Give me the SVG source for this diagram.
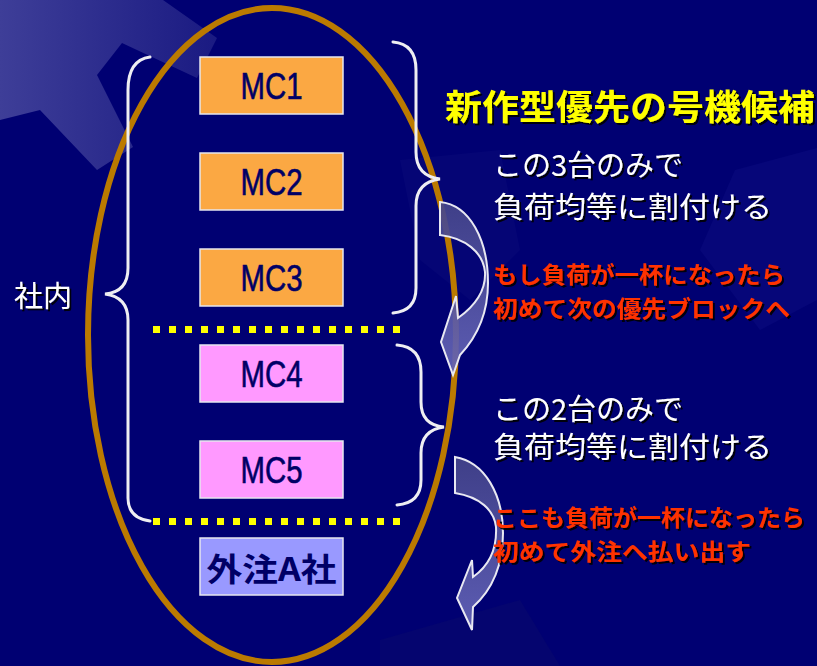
<svg xmlns="http://www.w3.org/2000/svg" width="817" height="666" viewBox="0 0 817 666">
<defs>
<linearGradient id="bgShape" x1="0" y1="0" x2="1" y2="0">
<stop offset="0" stop-color="#3E3E98"/>
<stop offset="1" stop-color="#1A1A82"/>
</linearGradient>
<linearGradient id="arrowFill" x1="0" y1="0" x2="0" y2="1">
<stop offset="0" stop-color="#44448A"/>
<stop offset="1" stop-color="#6464B8"/>
</linearGradient>
<filter id="shadow" x="-5%" y="-20%" width="115%" height="150%">
<feDropShadow dx="2" dy="2" stdDeviation="0.3" flood-color="#000000" flood-opacity="0.9"/>
</filter>
</defs>
<style>
.brace{fill:none;stroke:#EEEEF2;stroke-width:3;stroke-linecap:round}
.dots{stroke:#FFFF00;stroke-width:7;stroke-dasharray:7 9}
.box{stroke:#E6E6EE;stroke-width:1.5}
.mc{font-family:"Liberation Sans",Arial,sans-serif;font-size:36px;fill:#000066;stroke:#000066;stroke-width:0.6;text-anchor:middle}
.jp{font-family:"Noto Sans CJK JP","Noto Sans CJK SC",sans-serif}
.white{fill:#FFFFFF;font-size:29px}
.red{fill:#FF3300;font-size:23px;font-weight:bold}
.arrow{fill:url(#arrowFill);fill-opacity:0.92;stroke:#E8E8F2;stroke-width:2;stroke-linejoin:miter}
</style>
<rect x="0" y="0" width="817" height="666" fill="#000072"/>
<g id="background">
<polygon points="0,0 163,0 217,38 197,78 122,43 97,75 133,147 97,170 40,110 0,120" fill="url(#bgShape)"/>
<polygon points="735,170 817,148 817,300 760,330 700,250" fill="#0A0A7E" opacity="0.6"/>
<polygon points="400,160 500,150 520,250 470,300 420,260" fill="#080878" opacity="0.6"/>
<polygon points="380,640 520,600 560,666 380,666" fill="#06066E" opacity="0.8"/>
</g>
<g id="ellipse">
<ellipse cx="272" cy="335" rx="184" ry="327" fill="none" stroke="#BB7A00" stroke-width="6"/>
</g>
<g id="connectors">
<path class="brace" d="M150,57 Q128,60 128,90 L128,268 Q128,292 105,294 Q128,297 128,320 L128,498 Q128,518 150,521"/>
<path class="brace" d="M393,42 Q416,44 416,70 L416,152 Q416,176 440,179 Q416,182 416,206 L416,288 Q416,311 393,313"/>
<path class="brace" d="M397,345 Q421,347 421,372 L421,402 Q421,425 444,427 Q421,430 421,453 L421,480 Q421,503 397,505"/>
<line class="dots" x1="153" y1="329.5" x2="400" y2="329.5"/>
<line class="dots" x1="153" y1="521.5" x2="400" y2="521.5"/>
<path id="arrow1" class="arrow" d="M440,202 C470,205 488,240 488,283 C488,315 476,338 460,355 L453,375 L441,342 L456,296 L458,318 C476,305 486,290 485,272 C483,252 465,238 440,235 Z"/>
<path id="arrow2" class="arrow" d="M455,457 C485,462 503,495 503,533 C503,565 492,590 473,607 L472,630 L457,598 L472,560 L473,577 C490,565 497,547 496,527 C494,510 480,497 455,493 Z"/>
</g>
<g id="mc1"><rect class="box" x="200" y="57" width="143" height="57" fill="#FBA843"/><text class="mc" x="271.5" y="99" textLength="62" lengthAdjust="spacingAndGlyphs">MC1</text></g>
<g id="mc2"><rect class="box" x="200" y="153" width="143" height="57" fill="#FBA843"/><text class="mc" x="271.5" y="195" textLength="62" lengthAdjust="spacingAndGlyphs">MC2</text></g>
<g id="mc3"><rect class="box" x="200" y="249" width="143" height="57" fill="#FBA843"/><text class="mc" x="271.5" y="291" textLength="62" lengthAdjust="spacingAndGlyphs">MC3</text></g>
<g id="mc4"><rect class="box" x="200" y="345" width="143" height="57" fill="#FF99FF"/><text class="mc" x="271.5" y="387" textLength="62" lengthAdjust="spacingAndGlyphs">MC4</text></g>
<g id="mc5"><rect class="box" x="200" y="441" width="143" height="57" fill="#FF99FF"/><text class="mc" x="271.5" y="483" textLength="62" lengthAdjust="spacingAndGlyphs">MC5</text></g>
<g id="gaichu"><rect class="box" x="200" y="538" width="143" height="57" fill="#9999FF"/><text class="jp" x="271.5" y="581" font-size="32" font-weight="bold" fill="#000066" text-anchor="middle" textLength="130" lengthAdjust="spacingAndGlyphs">外注A社</text></g>
<g id="labels" filter="url(#shadow)">
<text class="jp" x="14" y="307" font-size="29" fill="#FFFFFF">社内</text>
<text class="jp" x="445" y="120" font-size="35" font-weight="bold" fill="#FFFF00" textLength="370" lengthAdjust="spacingAndGlyphs">新作型優先の号機候補</text>
<text class="jp white" x="493" y="176">この3台のみで</text>
<text class="jp white" x="493" y="218" textLength="279" lengthAdjust="spacingAndGlyphs">負荷均等に割付ける</text>
<text class="jp red" x="493" y="283" textLength="292" lengthAdjust="spacingAndGlyphs">もし負荷が一杯になったら</text>
<text class="jp red" x="493" y="317" textLength="297" lengthAdjust="spacingAndGlyphs">初めて次の優先ブロックへ</text>
<text class="jp white" x="493" y="420">この2台のみで</text>
<text class="jp white" x="493" y="458" textLength="279" lengthAdjust="spacingAndGlyphs">負荷均等に割付ける</text>
<text class="jp red" x="493" y="526" textLength="312" lengthAdjust="spacingAndGlyphs">ここも負荷が一杯になったら</text>
<text class="jp red" x="493" y="560" textLength="258" lengthAdjust="spacingAndGlyphs">初めて外注へ払い出す</text>
</g>
</svg>
